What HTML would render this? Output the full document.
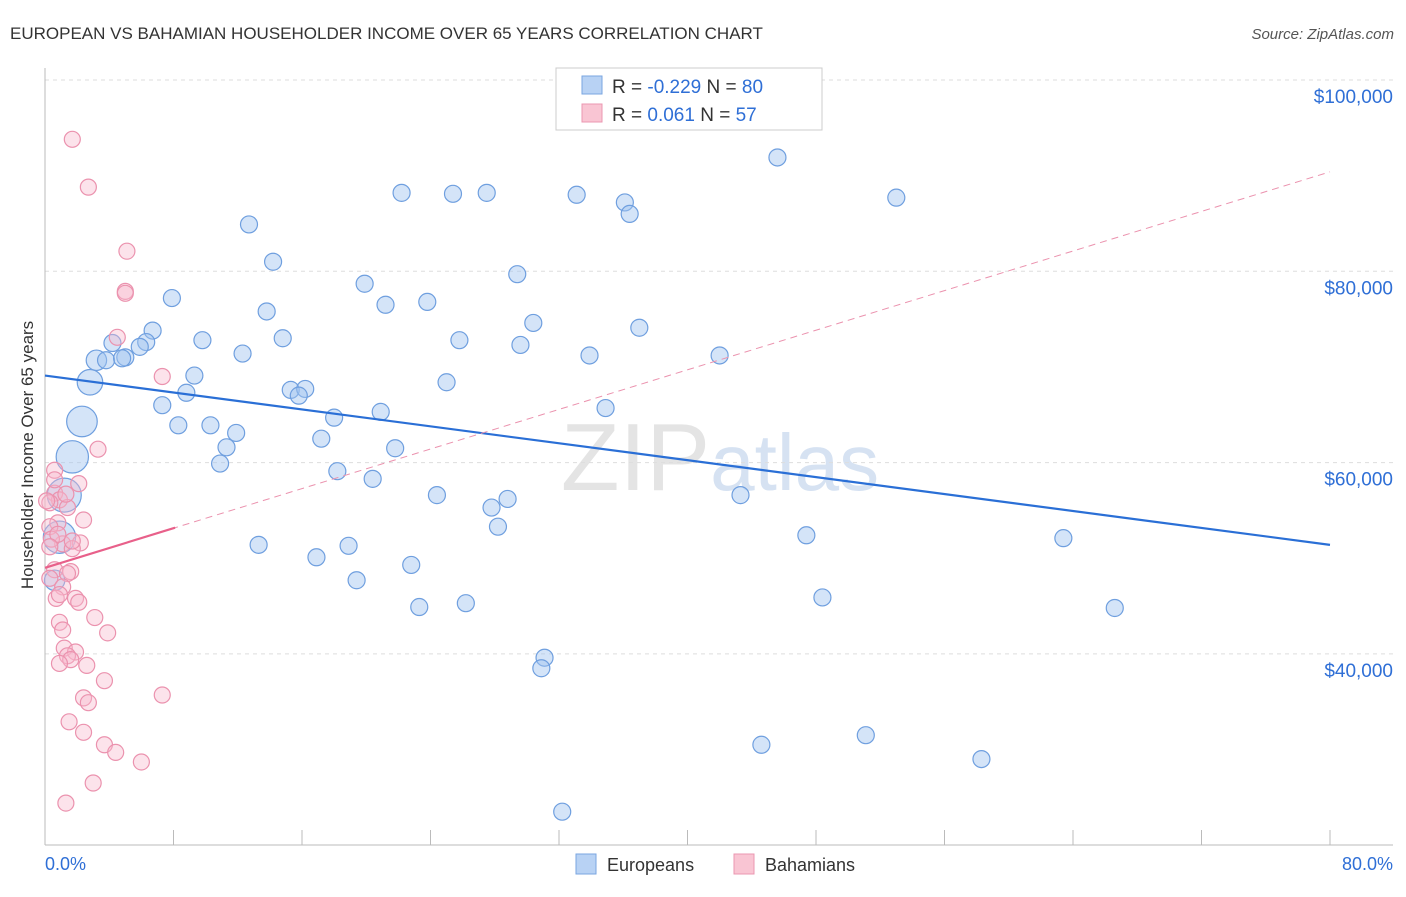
<!DOCTYPE html>
<html><head><meta charset="utf-8"><style>
body{margin:0;background:#fff;font-family:"Liberation Sans",sans-serif;}
svg text{font-family:"Liberation Sans",sans-serif;}
</style></head><body>
<svg id="c" width="1406" height="892">
<text x="10" y="39" font-size="17" fill="#333">EUROPEAN VS BAHAMIAN HOUSEHOLDER INCOME OVER 65 YEARS CORRELATION CHART</text>
<text x="1394" y="39" font-size="15" fill="#555" text-anchor="end" font-style="italic">Source: ZipAtlas.com</text>
<text x="720" y="490" font-size="96" fill="#e4e4e4" text-anchor="middle" font-family="Liberation Serif">ZIP<tspan fill="#d6e2f2" font-family="Liberation Sans" font-size="80">atlas</tspan></text>
<text transform="translate(33,455) rotate(-90)" font-size="17" fill="#333" text-anchor="middle">Householder Income Over 65 years</text>
<g id="grid"></g><g id="pts"></g><g id="lines"></g>
<g>
<rect x="556" y="68" width="266" height="62" fill="#fff" stroke="#ccc"/>
<rect x="582" y="76" width="20" height="18" fill="#b8d2f4" stroke="#7aa6e0"/>
<rect x="582" y="104" width="20" height="18" fill="#f9c5d3" stroke="#eb97b0"/>
<text x="612" y="93" font-size="19" fill="#333">R = <tspan fill="#2f6fd6">-0.229</tspan>   N = <tspan fill="#2f6fd6">80</tspan></text>
<text x="612" y="121" font-size="19" fill="#333">R = <tspan fill="#2f6fd6"> 0.061</tspan>   N = <tspan fill="#2f6fd6">57</tspan></text>
</g>
<g>
<rect x="576" y="854" width="20" height="20" fill="#b8d2f4" stroke="#7aa6e0"/>
<text x="607" y="871" font-size="18" fill="#333">Europeans</text>
<rect x="734" y="854" width="20" height="20" fill="#f9c5d3" stroke="#eb97b0"/>
<text x="765" y="871" font-size="18" fill="#333">Bahamians</text>
</g>
</svg>
<script>
const yTicks=[100,80,60,40];
const yTickLabels=["$100,000","$80,000","$60,000","$40,000"];
const xTickLabels=["0.0%","80.0%"];
const blueX=[45.6,22.2,25.4,27.5,33.1,36.1,36.4,53.0,12.7,14.2,29.4,19.9,7.9,13.8,21.2,23.8,30.4,37.0,6.7,6.3,4.2,5.9,9.8,14.8,25.8,29.6,33.9,42.0,12.3,3.2,3.8,5.0,4.8,2.8,9.3,25.0,8.8,15.3,16.2,15.8,7.3,34.9,20.9,18.0,8.3,10.3,11.9,2.3,17.2,11.3,21.8,1.7,10.9,18.2,20.4,43.3,24.4,28.8,1.2,27.8,28.2,47.4,63.4,0.9,13.3,18.9,16.9,22.8,19.4,48.4,26.2,23.3,66.6,31.1,30.9,44.6,51.1,58.3,32.2,0.6];
const blueY=[91.9,88.2,88.1,88.2,88.0,87.2,86.0,87.7,84.9,81.0,79.7,78.7,77.2,75.8,76.5,76.8,74.6,74.1,73.8,72.6,72.5,72.1,72.8,73.0,72.8,72.3,71.2,71.2,71.4,70.7,70.7,71.0,70.9,68.4,69.1,68.4,67.3,67.6,67.7,67.0,66.0,65.7,65.3,64.7,63.9,63.9,63.1,64.3,62.5,61.6,61.5,60.6,59.9,59.1,58.3,56.6,56.6,56.2,56.6,55.3,53.3,52.4,52.1,52.2,51.4,51.3,50.1,49.3,47.7,45.9,45.3,44.9,44.8,39.6,38.5,30.5,31.5,29.0,23.5,47.7];
const blueW=[1,1,1,1,1,1,1,1,1,1,1,1,1,1,1,1,1,1,1,1,1,1,1,1,1,1,1,1,1,1.2,1,1,1,1.5,1,1,1,1,1,1,1,1,1,1,1,1,1,1.8,1,1,1,1.9,1,1,1,1,1,1,2,1,1,1,1,1.9,1,1,1,1,1,1,1,1,1,1,1,1,1,1,1,1.2];
const pinkX=[1.7,2.7,5.1,5.0,5.0,4.5,7.3,3.3,0.6,2.1,0.6,0.9,0.3,1.4,2.4,0.8,0.3,2.2,1.1,1.7,0.6,1.6,1.4,0.3,1.1,0.7,1.9,2.1,3.1,0.9,1.1,3.9,1.2,1.9,1.4,1.6,0.9,2.6,3.7,7.3,2.4,2.7,1.5,2.4,3.7,4.4,6.0,3.0,1.3,0.6,0.4,0.8,1.3,0.3,0.9,1.7,0.1];
const pinkY=[93.8,88.8,82.1,77.9,77.7,73.1,69.0,61.4,59.2,57.8,56.8,56.1,55.8,55.3,54.0,53.7,53.3,51.6,51.5,51.0,48.8,48.6,48.4,47.9,47.0,45.8,45.8,45.4,43.8,43.3,42.5,42.2,40.6,40.2,39.8,39.4,39.0,38.8,37.2,35.7,35.4,34.9,32.9,31.8,30.5,29.7,28.7,26.5,24.4,58.2,52.0,52.5,56.7,51.2,46.2,51.8,56.0];
const blueTrend=[69.1,51.4];
const pinkTrend=[49.0,90.4];
const pinkSolidEnd=8.1;

const NS="http://www.w3.org/2000/svg";
const X=v=>45+v/80*1285;
const Y=v=>80+(100-v)/0.10455;
function mk(tag,attrs,parent){const e=document.createElementNS(NS,tag);for(const k in attrs)e.setAttribute(k,attrs[k]);parent.appendChild(e);return e;}
const grid=document.getElementById('grid'),pts=document.getElementById('pts'),lines=document.getElementById('lines');
yTicks.forEach((t,i)=>{
 const l=mk('line',{x1:45,x2:1393,y1:Y(t),y2:Y(t),stroke:'#ddd','stroke-dasharray':'4,4'},grid);
 
 
 const tx=mk('text',{x:1393,y:Y(t)+23,'font-size':19,fill:'#2f6fd6','text-anchor':'end'},grid);
 tx.textContent=yTickLabels[i];
 
 
});
const ax=mk('line',{x1:45,x2:1393,y1:845,y2:845,stroke:'#bbb'},grid);


const ay=mk('line',{x1:45,x2:45,y1:68,y2:845,stroke:'#bbb'},grid);


for(let i=0;i<=10;i++){
 const tk=mk('line',{x1:X(i*8),x2:X(i*8),y1:830,y2:845,stroke:'#bbb'},grid);
 
 
}
[[0,'start',45],[80,'end',1393]].forEach((a,i)=>{
 const tx=mk('text',{x:a[2],y:870,'font-size':18,fill:'#2f6fd6','text-anchor':a[1]},grid);
 tx.textContent=xTickLabels[i];
 
 
});
blueX.forEach((v,i)=>{
 const c=mk('circle',{cx:X(v),cy:Y(blueY[i]),r:8.5*blueW[i],fill:'rgba(160,195,240,0.45)',stroke:'#6f9fdf','stroke-width':1.2},pts);
 
 
});
pinkX.forEach((v,i)=>{
 const c=mk('circle',{cx:X(v),cy:Y(pinkY[i]),r:8,fill:'rgba(248,185,205,0.4)',stroke:'#eb92ae','stroke-width':1.2},pts);
 
 
});
const bl=mk('line',{x1:X(0),y1:Y(blueTrend[0]),x2:X(80),y2:Y(blueTrend[1]),stroke:'#2a6fd6','stroke-width':2.2},lines);


const pAt=x=>pinkTrend[0]+(pinkTrend[1]-pinkTrend[0])*x/80;
const pd=mk('line',{x1:X(0),y1:Y(pinkTrend[0]),x2:X(80),y2:Y(pinkTrend[1]),stroke:'#eb92ae','stroke-width':1,'stroke-dasharray':'7,5'},lines);


const ps=mk('line',{x1:X(0),y1:Y(pinkTrend[0]),x2:X(pinkSolidEnd),y2:Y(pAt(pinkSolidEnd)),stroke:'#e8608a','stroke-width':2.2},lines);


</script>
</body></html>
